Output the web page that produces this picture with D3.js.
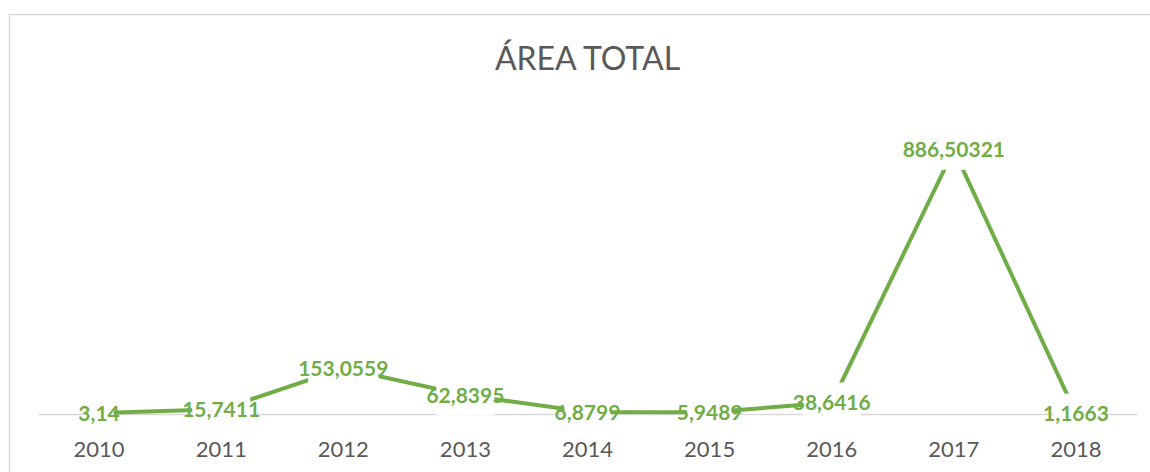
<!DOCTYPE html>
<html>
<head>
<meta charset="utf-8">
<script src="https://cdn.jsdelivr.net/npm/d3@7"></script>
<style>
  html, body { margin: 0; padding: 0; background: #fff; }
  svg { display: block; }
</style>
</head>
<body>
<script>
// Data
const years = ['2010', '2011', '2012', '2013', '2014', '2015', '2016', '2017', '2018'];
const areaValues = [3.14, 15.7411, 153.0559, 62.8395, 6.8799, 5.9489, 38.6416, 886.50321, 1.1663];
const areaLabels = ['3,14', '15,7411', '153,0559', '62,8395', '6,8799', '5,9489', '38,6416', '886,50321', '1,1663'];
const yDomain = [0, 1000];

const width = 1150, height = 472;
const margin = { top: 116, right: 13, bottom: 58, left: 38 };
const innerWidth = width - margin.left - margin.right;
const innerHeight = height - margin.top - margin.bottom;

const green = '#70AD47';

const svg = d3.select('body').append('svg')
    .attr('width', width)
    .attr('height', height);

// Chart border: only left and top edges are visible, the rest runs off the page
svg.append('path')
    .attr('d', `M9.5,${height}V14.5H${width}`)
    .attr('fill', 'none')
    .attr('stroke', '#d9d9d9')
    .attr('stroke-width', 1.5);

// Title
svg.append('text')
    .attr('x', margin.left + innerWidth / 2)
    .attr('y', 70)
    .attr('text-anchor', 'middle')
    .style('font-family', 'Lato, sans-serif')
    .style('font-size', '32px')
    .style('fill', '#595959')
    .text('ÁREA TOTAL');

const g = svg.append('g')
    .attr('transform', `translate(${margin.left},${margin.top})`);

// Scales
const xScale = d3.scaleBand()
    .domain(years)
    .range([0, innerWidth]);

const yScale = d3.scaleLinear()
    .domain(yDomain)
    .range([innerHeight, 0]);

// X axis
const xAxis = g.append('g')
    .attr('transform', `translate(0,${innerHeight})`)
    .call(d3.axisBottom(xScale).tickSize(0).tickPadding(27));

xAxis.select('.domain')
    .attr('stroke', '#d9d9d9')
    .attr('stroke-width', 1.5);

xAxis.selectAll('text')
    .style('font-family', 'Lato, sans-serif')
    .style('font-size', '22px')
    .style('fill', '#595959');

// Line
const line = d3.line()
    .x((d, i) => xScale(years[i]) + xScale.bandwidth() / 2)
    .y(d => yScale(d));

g.append('path')
    .datum(areaValues)
    .attr('fill', 'none')
    .attr('stroke', green)
    .attr('stroke-width', 4)
    .attr('d', line);

// Data labels; a white box behind each one breaks the line around it
const labels = g.selectAll('.data-label')
    .data(areaValues)
    .join('g')
    .attr('class', 'data-label')
    .attr('transform', (d, i) => `translate(${xScale(years[i]) + xScale.bandwidth() / 2},${yScale(d)})`);

labels.append('text')
    .attr('text-anchor', 'middle')
    .attr('dy', '0.36em')
    .style('font-family', 'Lato, sans-serif')
    .style('font-weight', 'bold')
    .style('font-size', '21px')
    .style('fill', green)
    .text((d, i) => areaLabels[i]);

labels.each(function() {
    const node = d3.select(this);
    const box = node.select('text').node().getBBox();
    const half = box.width / 2;
    const hw = half - Math.min(10, half * 0.3);
    node.insert('rect', 'text')
        .attr('x', -hw)
        .attr('y', -20)
        .attr('width', hw * 2)
        .attr('height', 40)
        .attr('fill', '#fff');
});
</script>
</body>
</html>
